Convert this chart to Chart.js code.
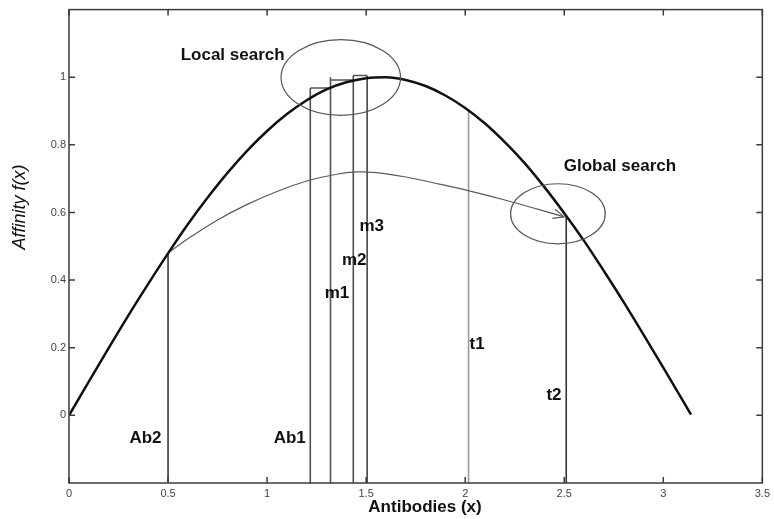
<!DOCTYPE html>
<html>
<head>
<meta charset="utf-8">
<style>
  html, body { margin: 0; padding: 0; background: #ffffff; }
  #wrap { width: 774px; height: 519px; }
</style>
<script src="https://cdn.jsdelivr.net/npm/chart.js@4/dist/chart.umd.min.js"></script>
</head>
<body>
<div id="wrap"><canvas id="c" width="774" height="519"></canvas></div>
<script>
// Affinity curve f(x) over the antibody range
const sineX = [0, 0.1, 0.2, 0.3, 0.4, 0.5, 0.6, 0.7, 0.8, 0.9, 1.0, 1.1, 1.2, 1.3, 1.4, 1.5,
               1.6, 1.7, 1.8, 1.9, 2.0, 2.1, 2.2, 2.3, 2.4, 2.5, 2.6, 2.7, 2.8, 2.9, 3.0, 3.1, 3.14];
const sineY = [0, 0.100, 0.199, 0.296, 0.389, 0.479, 0.565, 0.644, 0.717, 0.783, 0.841, 0.891,
               0.932, 0.964, 0.985, 0.997, 1.000, 0.992, 0.974, 0.946, 0.909, 0.863, 0.808, 0.746,
               0.675, 0.598, 0.516, 0.427, 0.335, 0.239, 0.141, 0.042, 0.002];

// Global-search jump path from Ab2 to t2
const arcX = [0.5, 0.6, 0.75, 0.9, 1.05, 1.2, 1.35, 1.45, 1.55, 1.7, 1.87, 2.02, 2.2, 2.37, 2.5];
const arcY = [0.48, 0.522, 0.578, 0.624, 0.662, 0.693, 0.713, 0.72, 0.718, 0.705, 0.684, 0.664, 0.637, 0.609, 0.587];

// Antibody positions and the height each stem reaches
const stemNames = ['Ab2', 'Ab1', 'm1', 'm2', 'm3', 't1', 't2'];
const stemX     = [0.5, 1.218, 1.32, 1.435, 1.505, 2.017, 2.51];
const stemTop   = [0.48, 0.968, 1.0, 1.005, 1.005, 0.905, 0.59];

// Local-search steps: Ab1 -> m1 -> m2 -> m3
const stepFrom = [1.218, 1.32, 1.435];
const stepTo   = [1.32, 1.435, 1.505];
const stepY    = [0.968, 0.992, 1.005];

// Axis ticks
const xTicks = [0, 0.5, 1, 1.5, 2, 2.5, 3, 3.5];
const yTicks = [0, 0.2, 0.4, 0.6, 0.8, 1];

const X_MIN = 0, X_MAX = 3.5, Y_MIN = -0.2, Y_MAX = 1.2;

// Drawing styles
const stemColors = ['#3a3a3a', '#505050', '#555555', '#505050', '#444444', '#9a9a9a', '#333333'];
const labelFont = 'bold 17px "Liberation Sans", Arial, sans-serif';

// Annotation placements (data units)
const stemLabelPos = [
  [0.386, -0.068], [1.114, -0.068], [1.353, 0.36], [1.44, 0.459], [1.528, 0.56], [2.06, 0.21], [2.448, 0.059]
];
const regions = [
  { text: 'Local search',  tx: 0.826, ty: 1.065, cx: 1.372, cy: 0.999, rx: 0.3015, ry: 0.112 },
  { text: 'Global search', tx: 2.781, ty: 0.738, cx: 2.468, cy: 0.596, rx: 0.239,  ry: 0.089 }
];

const pts = (xs, ys) => xs.map((x, i) => ({ x: x, y: ys[i] }));

const datasets = [];
datasets.push({
  data: pts(sineX, sineY), borderColor: '#111111', borderWidth: 2.5,
  pointRadius: 0, tension: 0.4, cubicInterpolationMode: 'monotone', order: 0
});
datasets.push({
  data: pts(arcX, arcY), borderColor: '#5a5a5a', borderWidth: 1.2,
  pointRadius: 0, tension: 0.4, order: 1
});
stemX.forEach((sx, i) => {
  datasets.push({
    data: [{ x: sx, y: Y_MIN }, { x: sx, y: stemTop[i] }],
    borderColor: stemColors[i], borderWidth: 1.6, pointRadius: 0, order: 2
  });
});
stepFrom.forEach((fx, i) => {
  datasets.push({
    data: [{ x: fx, y: stepY[i] }, { x: stepTo[i], y: stepY[i] }],
    borderColor: '#555555', borderWidth: 1.4, pointRadius: 0, order: 2
  });
});

const overlay = {
  id: 'overlay',
  afterDraw(chart) {
    const { ctx, chartArea: a, scales: { x, y } } = chart;
    ctx.save();

    // region ellipses
    ctx.strokeStyle = '#555555';
    ctx.lineWidth = 1.2;
    regions.forEach(r => {
      const px = x.getPixelForValue(r.cx), py = y.getPixelForValue(r.cy);
      const rx = Math.abs(x.getPixelForValue(r.cx + r.rx) - px);
      const ry = Math.abs(y.getPixelForValue(r.cy + r.ry) - py);
      ctx.beginPath();
      ctx.ellipse(px, py, rx, ry, 0, 0, Math.PI * 2);
      ctx.stroke();
    });

    // open arrowhead at the end of the jump path
    const n = arcX.length;
    const ex = x.getPixelForValue(arcX[n - 1]), ey = y.getPixelForValue(arcY[n - 1]);
    const bx = x.getPixelForValue(arcX[n - 2]), by = y.getPixelForValue(arcY[n - 2]);
    const ang = Math.atan2(ey - by, ex - bx);
    ctx.strokeStyle = '#5a5a5a';
    ctx.lineWidth = 1.2;
    [0.4, -0.4].forEach(d => {
      ctx.beginPath();
      ctx.moveTo(ex, ey);
      ctx.lineTo(ex - 12 * Math.cos(ang + d), ey - 12 * Math.sin(ang + d));
      ctx.stroke();
    });

    // axes box with inward ticks
    ctx.strokeStyle = '#3c3c3c';
    ctx.lineWidth = 1.5;
    ctx.strokeRect(a.left, a.top, a.right - a.left, a.bottom - a.top);
    ctx.beginPath();
    xTicks.forEach(t => {
      const p = x.getPixelForValue(t);
      ctx.moveTo(p, a.bottom); ctx.lineTo(p, a.bottom - 6);
      ctx.moveTo(p, a.top); ctx.lineTo(p, a.top + 6);
    });
    yTicks.forEach(t => {
      const p = y.getPixelForValue(t);
      ctx.moveTo(a.left, p); ctx.lineTo(a.left + 6, p);
      ctx.moveTo(a.right, p); ctx.lineTo(a.right - 6, p);
    });
    ctx.stroke();

    // annotations
    ctx.fillStyle = '#111111';
    ctx.font = labelFont;
    ctx.textAlign = 'center';
    ctx.textBaseline = 'middle';
    stemNames.forEach((s, i) => {
      ctx.fillText(s, x.getPixelForValue(stemLabelPos[i][0]), y.getPixelForValue(stemLabelPos[i][1]));
    });
    regions.forEach(r => {
      ctx.fillText(r.text, x.getPixelForValue(r.tx), y.getPixelForValue(r.ty));
    });

    // axis titles
    ctx.fillText('Antibodies (x)', 425, 507);
    ctx.save();
    ctx.translate(20, 207);
    ctx.rotate(-Math.PI / 2);
    ctx.font = 'italic 18px "Liberation Sans", Arial, sans-serif';
    ctx.fillText('Affinity f(x)', 0, 0);
    ctx.restore();

    ctx.restore();
  }
};

new Chart(document.getElementById('c'), {
  type: 'scatter',
  data: { datasets: datasets },
  options: {
    responsive: false,
    animation: false,
    events: [],
    showLine: true,
    layout: { padding: { top: 7, right: 9, left: 0, bottom: 0 } },
    plugins: { legend: { display: false }, tooltip: { enabled: false } },
    scales: {
      x: {
        type: 'linear', min: X_MIN, max: X_MAX,
        grid: { display: false, drawTicks: false },
        border: { display: false },
        afterBuildTicks: s => { s.ticks = xTicks.map(v => ({ value: v })); },
        afterFit: s => { s.height = 36; },
        ticks: {
          padding: 4, color: '#444444', maxRotation: 0, autoSkip: false,
          font: { family: '"Liberation Sans", Arial, sans-serif', size: 11 },
          callback: v => String(v)
        }
      },
      y: {
        type: 'linear', min: Y_MIN, max: Y_MAX,
        grid: { display: false, drawTicks: false },
        border: { display: false },
        afterBuildTicks: s => { s.ticks = yTicks.map(v => ({ value: v })); },
        afterFit: s => { s.width = 69; },
        ticks: {
          padding: 3, color: '#444444', autoSkip: false,
          font: { family: '"Liberation Sans", Arial, sans-serif', size: 11 },
          callback: v => String(v)
        }
      }
    }
  },
  plugins: [overlay]
});
</script>
</body>
</html>
